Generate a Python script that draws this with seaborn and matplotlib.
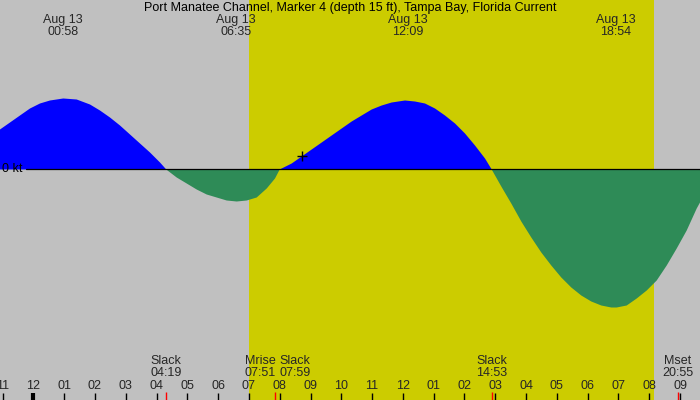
import numpy as np
import pandas as pd
import matplotlib
matplotlib.use("Agg")
import matplotlib.pyplot as plt
import seaborn as sns

# ---- data (hours after midnight Aug 13, current speed in knots) ----
times = [-1.081, -0.756, -0.432, -0.107, 0.217, 0.542, 0.974, 1.409, 1.841, 2.165,
         2.49, 2.815, 3.14, 3.464, 3.789, 4.114, 4.317,
         4.656, 4.981, 5.305, 5.63, 5.955, 6.279, 6.604, 6.929, 7.253, 7.578, 7.847, 8.0,
         8.39, 8.714, 9.039, 9.364, 9.688, 10.013, 10.338, 10.662, 10.987, 11.312,
         11.636, 12.068, 12.393, 12.718, 13.042, 13.367, 13.692, 14.016, 14.341,
         14.666, 14.883,
         15.195, 15.519, 15.844, 16.169, 16.494, 16.818, 17.143, 17.468, 17.792,
         18.117, 18.442, 18.766, 18.94, 19.266, 19.591, 19.916, 20.24, 20.565,
         20.89, 21.214, 21.539, 21.646]
speed = [0.40, 0.47, 0.54, 0.61, 0.66, 0.69, 0.71, 0.70, 0.65, 0.59,
         0.52, 0.44, 0.35, 0.26, 0.17, 0.07, 0.0,
         -0.08, -0.14, -0.20, -0.25, -0.28, -0.31, -0.32, -0.31, -0.28, -0.19, -0.09, 0.0,
         0.06, 0.13, 0.20, 0.27, 0.34, 0.41, 0.48, 0.54, 0.60, 0.64,
         0.67, 0.69, 0.68, 0.66, 0.61, 0.54, 0.46, 0.36, 0.24,
         0.11, 0.0,
         -0.17, -0.34, -0.52, -0.68, -0.83, -0.96, -1.08, -1.18, -1.26,
         -1.32, -1.36, -1.38, -1.38, -1.36, -1.29, -1.21, -1.11, -0.96,
         -0.79, -0.61, -0.39, -0.33]

title = "Port Manatee Channel, Marker 4 (depth 15 ft), Tampa Bay, Florida Current"
peak_times = [0.967, 6.583, 12.15, 18.9]
peak_dates = ["Aug 13", "Aug 13", "Aug 13", "Aug 13"]
peak_labels = ["00:58", "06:35", "12:09", "18:54"]

event_times = [4.317, 7.85, 7.983, 14.883, 20.917]
event_names = ["Slack", "Mrise", "Slack", "Slack", "Mset"]
event_labels = ["04:19", "07:51", "07:59", "14:53", "20:55"]
event_align = ["center", "right", "left", "center", "center"]
event_red = [True, True, False, True, True]

hour_ticks = list(range(-1, 22))
hour_labels = ["11", "12", "01", "02", "03", "04", "05", "06", "07", "08", "09", "10",
               "11", "12", "01", "02", "03", "04", "05", "06", "07", "08", "09"]

sunrise, sunset = 7.0, 20.15
now_time, now_speed = 8.72, 0.13

# ---- style ----
sns.set_style("white")
plt.rcParams["font.family"] = ["Liberation Sans", "DejaVu Sans"]
FS = 9.0
GRAY = "#c0c0c0"
YELLOW = "#cccc00"
BLUE = "#0000ff"
GREEN = "#2e8b57"

df = pd.DataFrame({"t": times, "v": speed})

fig = plt.figure(figsize=(7, 4), dpi=100, facecolor=GRAY)
ax = fig.add_axes([0, 0, 1, 1])
ax.set_facecolor(GRAY)
x0 = -33.3 / 30.8
x1 = (700 - 33.3) / 30.8
ax.set_xlim(x0, x1)
ax.set_ylim(-2.305, 1.695)
for s in ax.spines.values():
    s.set_visible(False)
ax.set_xticks([])
ax.set_yticks([])

ax.axvspan(sunrise, sunset, color=YELLOW, lw=0, zorder=0)

t = df["t"].to_numpy()
v = df["v"].to_numpy()
ax.fill_between(t, v, 0, where=v >= 0, interpolate=True, color=BLUE, lw=0, zorder=2)
ax.fill_between(t, v, 0, where=v <= 0, interpolate=True, color=GREEN, lw=0, zorder=2)

ax.axhline(0, xmin=26 / 700, xmax=1, color="black", lw=0.9, zorder=3)
ax.text(2 / 700, 0, "0 kt", transform=ax.get_yaxis_transform(), ha="left", va="center",
        fontsize=FS, color="black", zorder=6)

sns.scatterplot(x=[now_time], y=[now_speed], marker="+", s=60, color="black",
                linewidth=1, ax=ax, zorder=4, legend=False)

xt = ax.get_xaxis_transform()
ax.text(0.5, 1 - 7.5 / 400, title, transform=ax.transAxes, ha="center", va="center",
        fontsize=FS, color="black")
for pt, d, lab in zip(peak_times, peak_dates, peak_labels):
    ax.text(pt, 1 - 19.5 / 400, d, transform=xt, ha="center", va="center", fontsize=FS)
    ax.text(pt, 1 - 32 / 400, lab, transform=xt, ha="center", va="center", fontsize=FS)

for et, nm, lab, al, red in zip(event_times, event_names, event_labels, event_align, event_red):
    xx = et
    if al == "right":
        xx = et + 1.0 / 30.8
    ax.text(xx, 1 - 361.5 / 400, nm, transform=xt, ha=al, va="center", fontsize=FS)
    ax.text(xx, 1 - 373.5 / 400, lab, transform=xt, ha=al, va="center", fontsize=FS)
    if red:
        ax.vlines(et, 0, 8.5 / 400, transform=xt, color="red", lw=1, zorder=5)

for h, lab in zip(hour_ticks, hour_labels):
    ax.text(h, 1 - 386 / 400, lab, transform=xt, ha="center", va="center", fontsize=FS)
    ax.vlines(h, 0, 7.5 / 400, transform=xt, color="black",
              lw=3 if lab == "12" and h == 0 else 1, zorder=5)

fig.savefig("out.png", dpi=100, facecolor=GRAY)
